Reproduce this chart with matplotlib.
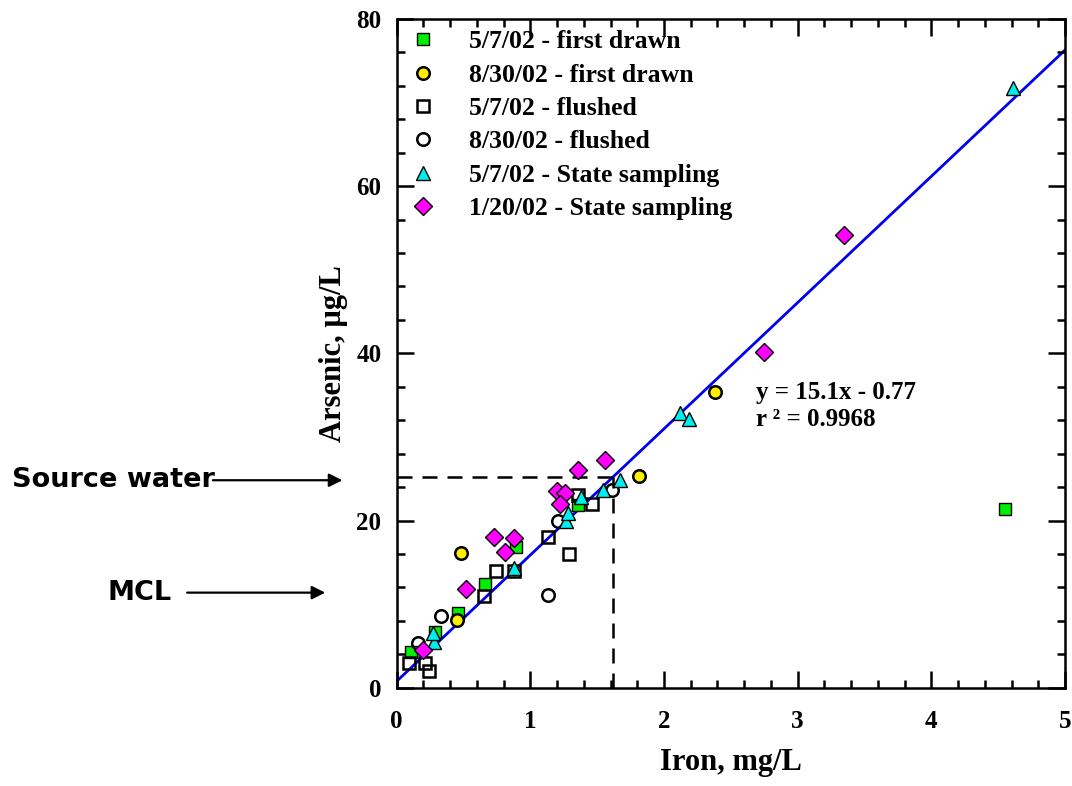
import numpy as np
import matplotlib
matplotlib.use('Agg')
import matplotlib.pyplot as plt
from matplotlib.ticker import MultipleLocator
from matplotlib.patches import FancyArrowPatch

plt.rcParams['font.family'] = ['Liberation Serif', 'DejaVu Serif']
plt.rcParams['font.weight'] = 'bold'

## data (iron mg/L, arsenic ug/L)
fd57_x = [0.11, 0.29, 0.46, 0.66, 0.89, 1.36, 4.55]
fd57_y = [4.3, 6.7, 8.9, 12.4, 16.8, 21.9, 21.4]
fd830_x = [0.48, 0.45, 1.81, 2.38]
fd830_y = [16.1, 8.1, 25.3, 35.4]
fl57_x = [0.09, 0.21, 0.24, 0.65, 0.74, 0.88, 1.13, 1.29, 1.36, 1.46]
fl57_y = [3.0, 3.0, 2.0, 11.0, 14.0, 14.0, 18.0, 16.0, 23.0, 22.0]
fl830_x = [0.16, 0.33, 1.13, 1.21, 1.61]
fl830_y = [5.3, 8.6, 11.1, 19.9, 23.7]
st57_x = [0.28, 0.27, 0.88, 1.27, 1.28, 1.38, 1.54, 1.67, 2.12, 2.19, 4.61]
st57_y = [5.5, 6.6, 14.3, 19.9, 20.9, 22.8, 23.7, 24.8, 32.9, 32.2, 71.7]
st120_x = [0.20, 0.52, 0.73, 0.88, 0.81, 1.20, 1.26, 1.22, 1.36, 1.56, 2.75, 3.35]
st120_y = [4.5, 11.8, 18.0, 17.9, 16.2, 23.5, 23.3, 22.0, 26.1, 27.2, 40.1, 54.1]

fit_slope = 15.1
fit_icpt = 0.77
source_fe = 1.62
source_as = 25.2

fig = plt.figure(figsize=(10.72, 7.86), dpi=100)
ax = fig.add_axes([0.370, 0.125, 0.6235, 0.851])

xx = np.array([0, 5])
ax.plot(xx, fit_slope * xx + fit_icpt, color='#0000ee', lw=2, zorder=1)
ax.plot([0, source_fe], [source_as, source_as], 'k--', lw=1.8, dashes=(6, 4), zorder=1)
ax.plot([source_fe, source_fe], [0, source_as], 'k--', lw=1.8, dashes=(6, 4), zorder=1)

ax.plot(fd57_x, fd57_y, ls='none', marker='s', ms=9, mfc='#00ee00', mec='black', mew=1.0,
        label='5/7/02 - first drawn')
ax.plot(fd830_x, fd830_y, ls='none', marker='o', ms=9, mfc='#ffee00', mec='black', mew=1.8,
        label='8/30/02 - first drawn')
ax.plot(fl57_x, fl57_y, ls='none', marker='s', ms=9, mfc='none', mec='black', mew=1.8,
        label='5/7/02 - flushed')
ax.plot(fl830_x, fl830_y, ls='none', marker='o', ms=9, mfc='none', mec='black', mew=1.8,
        label='8/30/02 - flushed')
ax.plot(st57_x, st57_y, ls='none', marker='^', ms=10.5, mfc='#00eeee', mec='black', mew=1.0,
        label='5/7/02 - State sampling')
ax.plot(st120_x, st120_y, ls='none', marker='D', ms=9, mfc='#ff00ff', mec='black', mew=1.0,
        label='1/20/02 - State sampling')

ax.set_xlim(0, 5)
ax.set_ylim(0, 80)
ax.xaxis.set_major_locator(MultipleLocator(1))
ax.xaxis.set_minor_locator(MultipleLocator(0.2))
ax.yaxis.set_major_locator(MultipleLocator(20))
ax.yaxis.set_minor_locator(MultipleLocator(4))
ax.tick_params(which='both', direction='in', top=True, right=True, width=1.8, labelsize=18)
ax.tick_params(axis='x', which='major', pad=16)
ax.tick_params(axis='y', which='major', pad=11)
ax.tick_params(which='major', length=12)
ax.tick_params(which='minor', length=6)
for s in ax.spines.values():
    s.set_linewidth(1.8)

ax.set_xlabel('Iron, mg/L', fontsize=22, fontweight='bold', labelpad=11)
ax.set_ylabel('Arsenic, µg/L', fontsize=22, fontweight='bold', labelpad=6)

ax.text(2.69, 33.7, 'y = 15.1x - 0.77\nr ² = 0.9968', fontsize=18, fontweight='bold',
        va='center', ha='left', linespacing=1.25)

ax.legend(loc='upper left', bbox_to_anchor=(-0.009, 1.0), frameon=False, fontsize=18.5,
          handletextpad=1.0, handlelength=1.6, labelspacing=0.4, borderaxespad=0.15, borderpad=0.3)

fig.text(0.011, 0.389, 'Source water', fontsize=19.5, fontweight='bold',
         family=['DejaVu Sans'], va='center', ha='left')
fig.text(0.100, 0.246, 'MCL', fontsize=19.5, fontweight='bold',
         family=['DejaVu Sans'], va='center', ha='left')
fig.add_artist(FancyArrowPatch((0.196, 0.389), (0.322, 0.389), transform=fig.transFigure,
                               arrowstyle='-|>', mutation_scale=20, lw=1.6, color='black'))
fig.add_artist(FancyArrowPatch((0.172, 0.246), (0.306, 0.246), transform=fig.transFigure,
                               arrowstyle='-|>', mutation_scale=20, lw=1.6, color='black'))

fig.savefig('out.png', dpi=100)
